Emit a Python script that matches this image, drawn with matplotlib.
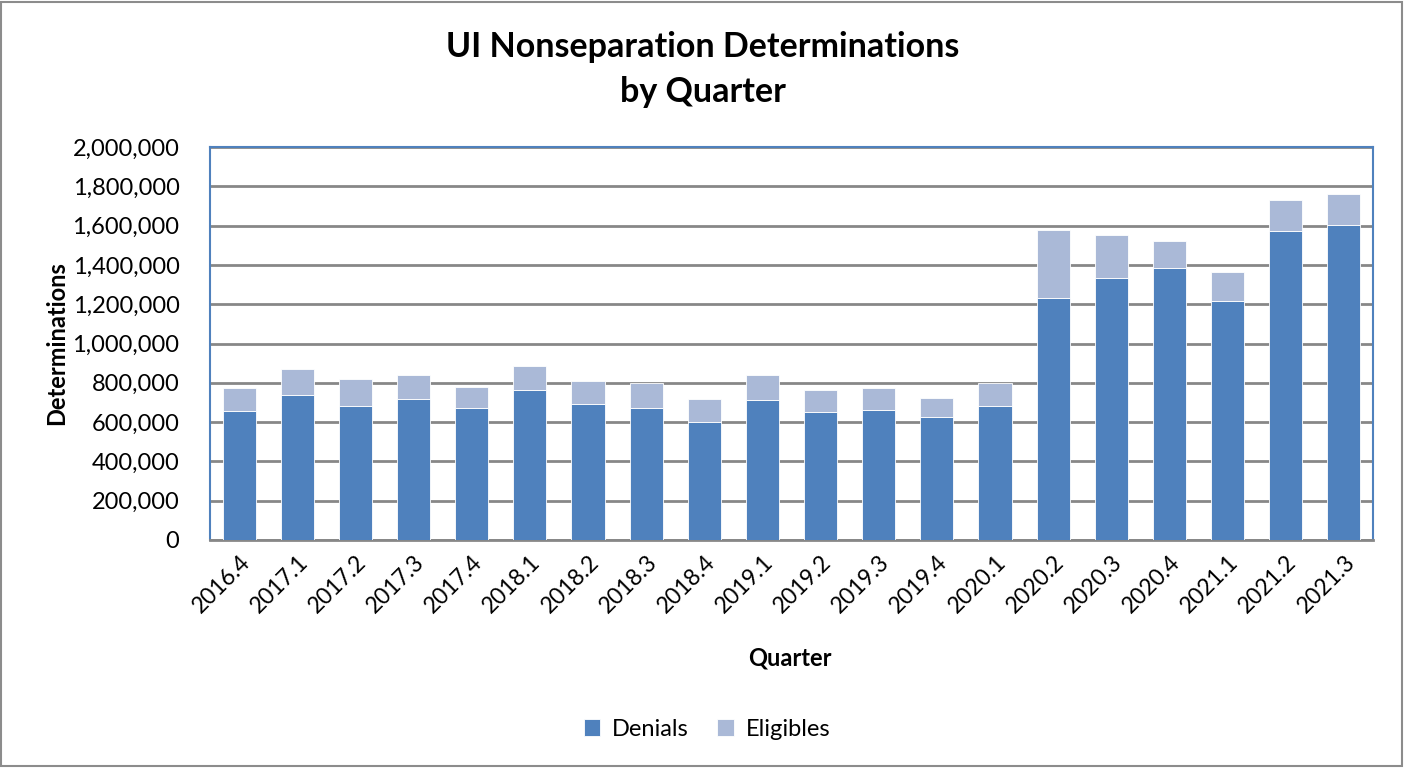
import matplotlib
matplotlib.use("Agg")
import matplotlib.pyplot as plt
from matplotlib.patches import Rectangle
from matplotlib.ticker import FuncFormatter, MultipleLocator
import numpy as np

quarters = ["2016.4", "2017.1", "2017.2", "2017.3", "2017.4", "2018.1", "2018.2",
            "2018.3", "2018.4", "2019.1", "2019.2", "2019.3", "2019.4", "2020.1",
            "2020.2", "2020.3", "2020.4", "2021.1", "2021.2", "2021.3"]
denials = [658000, 736000, 683000, 717000, 671000, 763000, 692000, 670000, 598000,
           715000, 651000, 664000, 624000, 683000, 1234000, 1332000, 1385000,
           1215000, 1571000, 1602000]
totals = [773000, 870000, 819000, 839000, 780000, 883000, 807000, 800000, 717000,
          839000, 763000, 773000, 722000, 800000, 1576000, 1551000, 1520000,
          1363000, 1732000, 1759000]
eligibles = [t - d for t, d in zip(totals, denials)]

plt.rcParams['font.family'] = ['Lato', 'DejaVu Sans']

fig = plt.figure(figsize=(14.09, 7.69), dpi=100)
ax = fig.add_axes([210/1409, 1 - 540/769, (1373-210)/1409, (540-147)/769])

x = np.arange(len(quarters))
c_den = "#4F81BD"
c_eli = "#AAB9D7"
ax.bar(x, denials, width=0.57, color=c_den, edgecolor="white", linewidth=0.6,
       label="Denials", zorder=3)
ax.bar(x, eligibles, width=0.57, bottom=denials, color=c_eli, edgecolor="white",
       linewidth=0.6, label="Eligibles", zorder=3)

ax.set_xlim(-0.5, len(quarters) - 0.5)
ax.set_ylim(0, 2000000)
ax.yaxis.set_major_locator(MultipleLocator(200000))
ax.yaxis.set_major_formatter(FuncFormatter(lambda v, p: f"{int(v):,}"))
ax.grid(axis="y", color="#878787", linewidth=2, zorder=0)
ax.set_axisbelow(True)

for s in ["left", "top", "right"]:
    ax.spines[s].set_color("#4F81BD")
    ax.spines[s].set_linewidth(1.5)
ax.spines["bottom"].set_color("#878787")
ax.spines["bottom"].set_linewidth(2)

ax.set_xticks(x)
ax.set_xticklabels(quarters, rotation=45, ha="right", rotation_mode="anchor",
                   fontsize=16.5)
ax.tick_params(axis="x", length=0, pad=8)
ax.tick_params(axis="y", length=0, labelsize=17, pad=22)

ax.set_ylabel("Determinations", fontsize=17, fontweight="bold", labelpad=3)
fig.text(790/1409, 1 - 658/769, "Quarter", fontsize=17, fontweight="bold",
         ha="center", va="center")

fig.text(703/1409, 1 - 47/769, "UI Nonseparation Determinations", fontsize=24.5,
         fontweight="bold", ha="center", va="center")
fig.text(703/1409, 1 - 92/769, "by Quarter", fontsize=24.5,
         fontweight="bold", ha="center", va="center")

fig.legend(loc="center", bbox_to_anchor=(707/1409, 1 - 729/769), ncol=2,
           frameon=False, fontsize=17, handlelength=0.7, handleheight=0.7,
           columnspacing=1.2, handletextpad=0.5)

fig.patches.append(Rectangle((0.001, 0.004), 0.994, 0.993, transform=fig.transFigure,
                             fill=False, edgecolor="#8C8C8C", linewidth=1.5))

fig.savefig("out.png", dpi=100)
